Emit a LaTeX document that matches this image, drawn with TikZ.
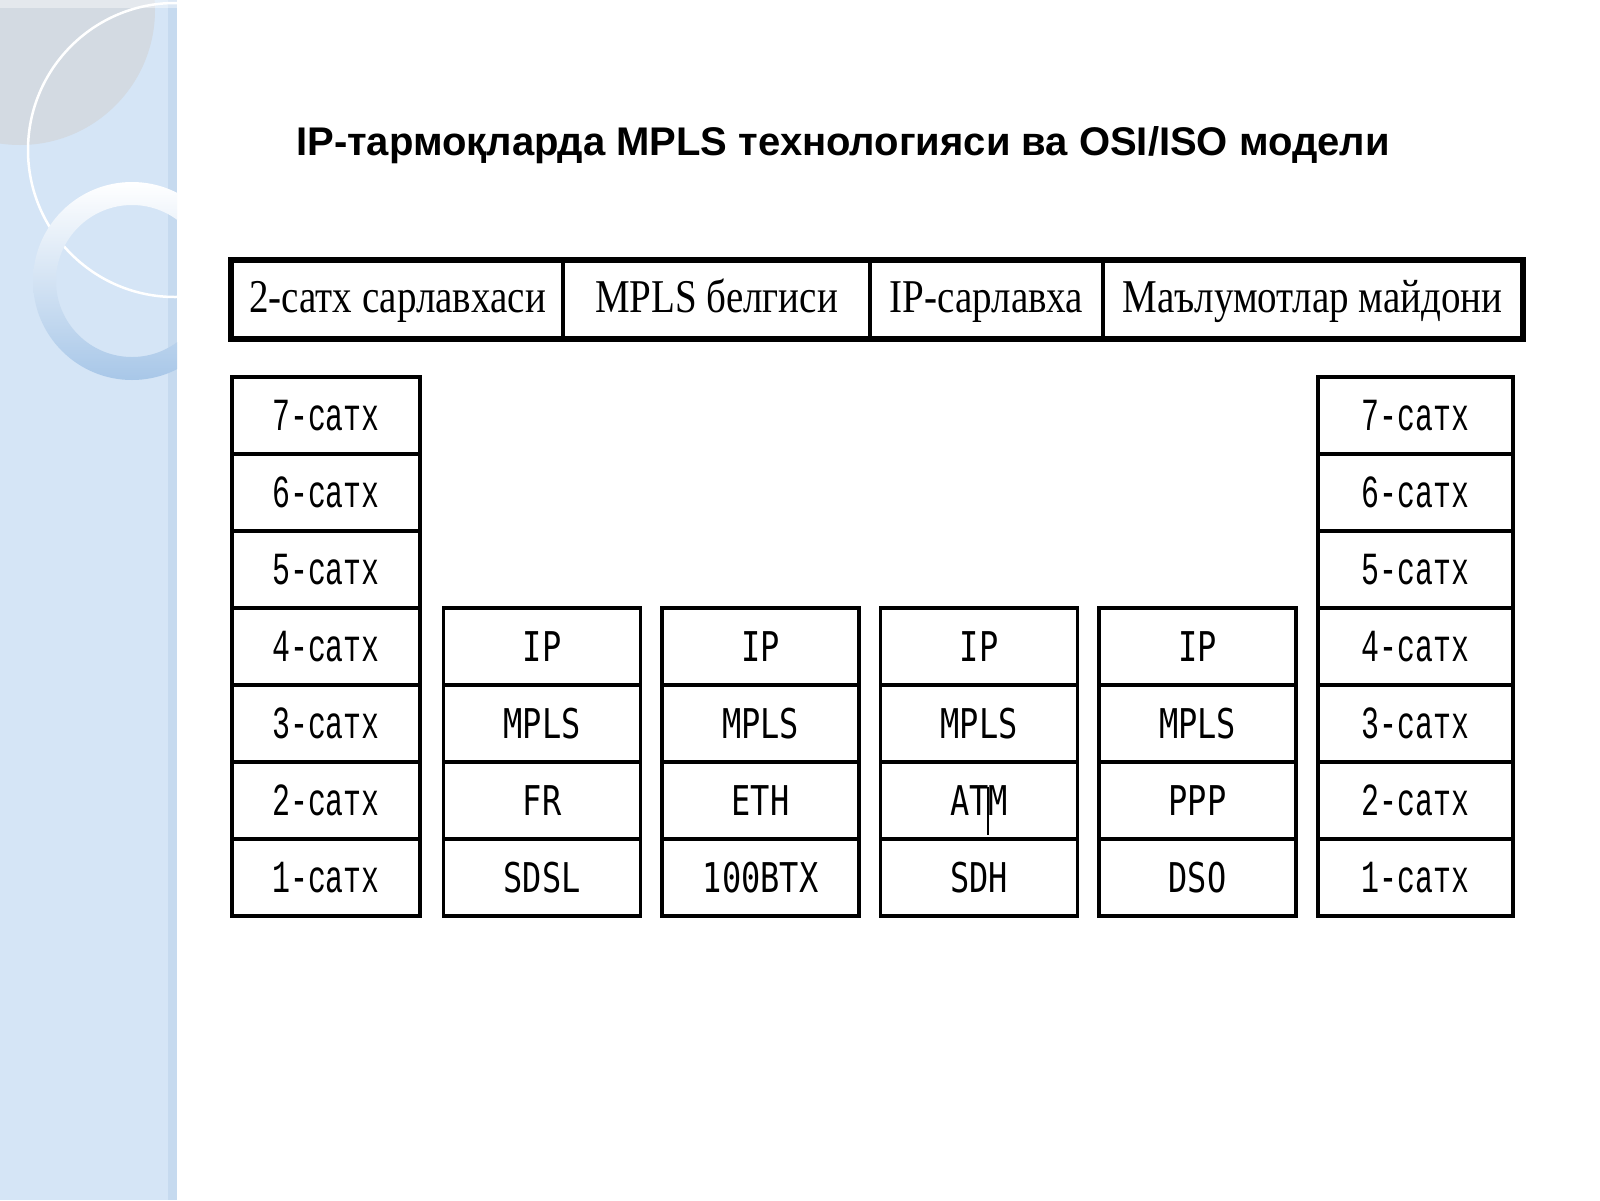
\documentclass[tikz,border=0pt]{standalone}
\usepackage{fontspec}
\setmainfont{Liberation Sans}
\newfontfamily\satxfont[FakeStretch=0.65]{Liberation Mono}
\newfontfamily\headfont[FakeStretch=0.83]{Liberation Serif}
\newfontfamily\protofont[FakeStretch=0.78]{DejaVu Sans Mono}
\definecolor{panelblue}{HTML}{D5E5F6}
\definecolor{panelgrey}{HTML}{D3DAE2}
\definecolor{paneledge}{HTML}{C6DAEF}
\definecolor{ringblue}{HTML}{A8C7E8}
\tikzset{
  cell/.style={draw, line width=3.5pt, inner sep=0pt, minimum height=77pt},
  satxbox/.style={cell, minimum width=#1, font=\satxfont\fontsize{46}{46}\selectfont},
  protobox/.style={cell, minimum width=197pt, font=\protofont\fontsize{41}{41}\selectfont},
  headbox/.style={cell, minimum width=#1, text height=30pt, text depth=4pt,
    font=\headfont\fontsize{47}{47}\selectfont},
}
\begin{document}
\begin{tikzpicture}[x=1pt, y=-1pt]
        \useasboundingbox (0,0) rectangle (1600,1200);
        \fill[white] (0,0) rectangle (1600,1200);

        % --- 左の帯 ---
        \begin{scope}
            \clip (0,0) rectangle (177,1200);
            \fill[panelblue] (0,0) rectangle (177,1200);
            \fill[paneledge] (168,0) rectangle (177,1200);
            \fill[panelgrey] (20,10) circle (135);
            \fill[white, opacity=0.4] (0,0) rectangle (177,8);
            \draw[white, line width=2.5pt] (175,150) circle (147);
            \shade[top color=white, bottom color=ringblue, even odd rule]
                (132,281) circle (99) (132,281) circle (76);
        \end{scope}

        % --- 表題 ---
        \node[anchor=base, font=\bfseries\fontsize{40}{40}\selectfont] (title) at (843,155)
            {IP-тармоқларда MPLS технологияси ва OSI/ISO модели};

        % --- パケットの見出し ---
        \node[headbox=331pt] (hdrL2) at (397.5,299.5) {2-сатх сарлавхаси};
        \node[headbox=307pt] (hdrMPLS) at (716.5,299.5) {MPLS белгиси};
        \node[headbox=233pt] (hdrIP) at (986.5,299.5) {IP-сарлавха};
        \node[headbox=419pt] (hdrData) at (1312.5,299.5) {Маълумотлар майдони};
        \draw[line width=5pt] (hdrL2.north west) rectangle (hdrData.south east);

        % --- OSI/ISO の7層 (左と右) ---
        \foreach \n [count=\i] in {7,6,...,1} {
            \node[satxbox=188pt] (left\n) at (326, {415.5+(\i-1)*77}) {\n-сатх};
            \node[satxbox=195pt] (right\n) at (1415.5, {415.5+(\i-1)*77}) {\n-сатх};
        }

        % --- MPLS のスタック ---
        \foreach \xc/\name/\link/\phys in {542/fr/FR/SDSL, 760.5/eth/ETH/100BTX,
                979/atm/ATM/SDH, 1197.5/ppp/PPP/DSO} {
            \node[protobox] (\name-ip) at (\xc,646.5) {IP};
            \node[protobox] (\name-mpls) at (\xc,723.5) {MPLS};
            \node[protobox] (\name-link) at (\xc,800.5) {\link};
            \node[protobox] (\name-phys) at (\xc,877.5) {\phys};
        }
        \draw[line width=1.6pt] (atm-link.center) ++(9,-14) -- ++(0,48);

    \end{tikzpicture}
\end{document}
